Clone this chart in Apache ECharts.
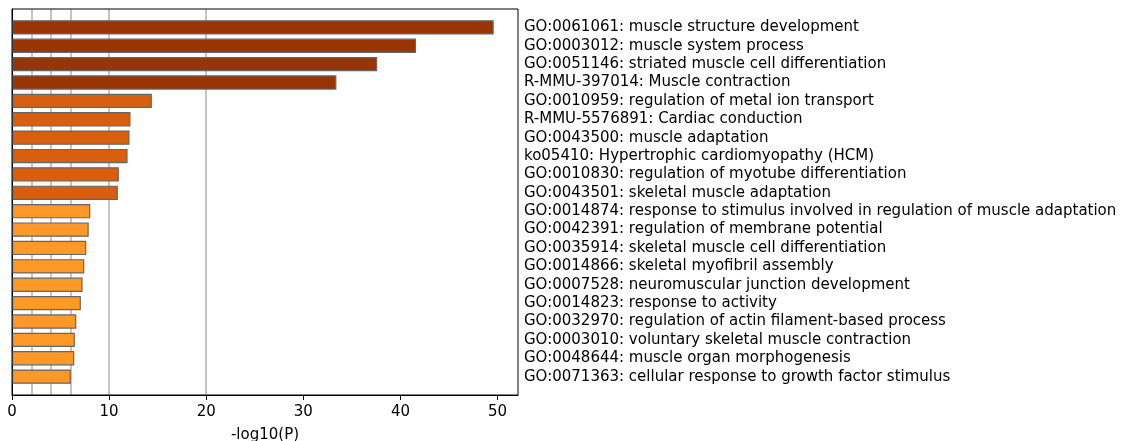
<!DOCTYPE html>
<html>
<head>
<meta charset="utf-8">
<script src="https://cdn.jsdelivr.net/npm/echarts@6/dist/echarts.min.js"></script>
<style>html,body{margin:0;padding:0;background:#fff;}#c{width:1124px;height:441px;}</style>
</head>
<body>
<div id="c"></div>
<script>
const terms = [
  'GO:0061061: muscle structure development',
  'GO:0003012: muscle system process',
  'GO:0051146: striated muscle cell differentiation',
  'R-MMU-397014: Muscle contraction',
  'GO:0010959: regulation of metal ion transport',
  'R-MMU-5576891: Cardiac conduction',
  'GO:0043500: muscle adaptation',
  'ko05410: Hypertrophic cardiomyopathy (HCM)',
  'GO:0010830: regulation of myotube differentiation',
  'GO:0043501: skeletal muscle adaptation',
  'GO:0014874: response to stimulus involved in regulation of muscle adaptation',
  'GO:0042391: regulation of membrane potential',
  'GO:0035914: skeletal muscle cell differentiation',
  'GO:0014866: skeletal myofibril assembly',
  'GO:0007528: neuromuscular junction development',
  'GO:0014823: response to activity',
  'GO:0032970: regulation of actin filament-based process',
  'GO:0003010: voluntary skeletal muscle contraction',
  'GO:0048644: muscle organ morphogenesis',
  'GO:0071363: cellular response to growth factor stimulus'
];
const logP = [49.6, 41.6, 37.6, 33.4, 14.4, 12.2, 12.1, 11.9, 11.0, 10.9,
              8.06, 7.9, 7.65, 7.44, 7.27, 7.09, 6.62, 6.47, 6.41, 6.06];
const xTicks = [0, 10, 20, 30, 40, 50];
const thresholdLines = [2, 4, 6, 10, 20];
const xMax = 52.1;

function barColor(v) {
  if (v >= 20) return '#993404';
  if (v >= 10) return '#d95f0e';
  return '#fe9929';
}

// pad with an empty slot at each end so the frame spans half a band beyond the bars
const cats = [''].concat(terms, ['']);
const seriesData = [null].concat(logP.map(v => ({ value: v, itemStyle: { color: barColor(v) } })), [null]);

const chart = echarts.init(document.getElementById('c'), null, { renderer: 'canvas' });
const font = 'DejaVu Sans';
const fs = 15;
chart.setOption({
  animation: false,
  backgroundColor: '#fff',
  grid: { left: 12, right: 606, top: 9, bottom: 46, containLabel: false, outerBoundsMode: 'none',
          show: true, borderColor: '#000', borderWidth: 1, backgroundColor: 'transparent', z: 10 },
  xAxis: {
    type: 'value', min: 0, max: xMax, interval: 10,
    axisLine: { show: true, lineStyle: { color: '#000', width: 1 } },
    axisTick: { show: true, length: 5, lineStyle: { color: '#000' }, customValues: xTicks },
    axisLabel: { color: '#000', fontFamily: font, fontSize: fs, margin: 10, customValues: xTicks },
    splitLine: { show: false },
    name: '-log10(P)', nameLocation: 'middle', nameGap: 33,
    nameTextStyle: { color: '#000', fontFamily: font, fontSize: fs }
  },
  yAxis: {
    type: 'category', data: cats, inverse: true, boundaryGap: false, position: 'right',
    axisLine: { show: true, lineStyle: { color: '#000', width: 1 } },
    axisTick: { show: false },
    axisLabel: { color: '#000', fontFamily: font, fontSize: fs, align: 'left', margin: 6, interval: 0,
                 padding: [3, 0, 0, 0] },
    splitLine: { show: false }
  },
  series: [
    {
      type: 'line',
      data: [],
      z: 0,
      silent: true,
      markLine: {
        silent: true, symbol: 'none', z: 0,
        label: { show: false },
        emphasis: { disabled: true },
        lineStyle: { color: '#c4c4c4', width: 2, type: 'solid' },
        data: thresholdLines.map(v => ({ xAxis: v }))
      }
    },
    {
      type: 'bar',
      data: seriesData,
      barWidth: '78%',
      itemStyle: { borderColor: '#666', borderWidth: 1.2 },
      z: 5
    }
  ]
});
</script>
</body>
</html>
